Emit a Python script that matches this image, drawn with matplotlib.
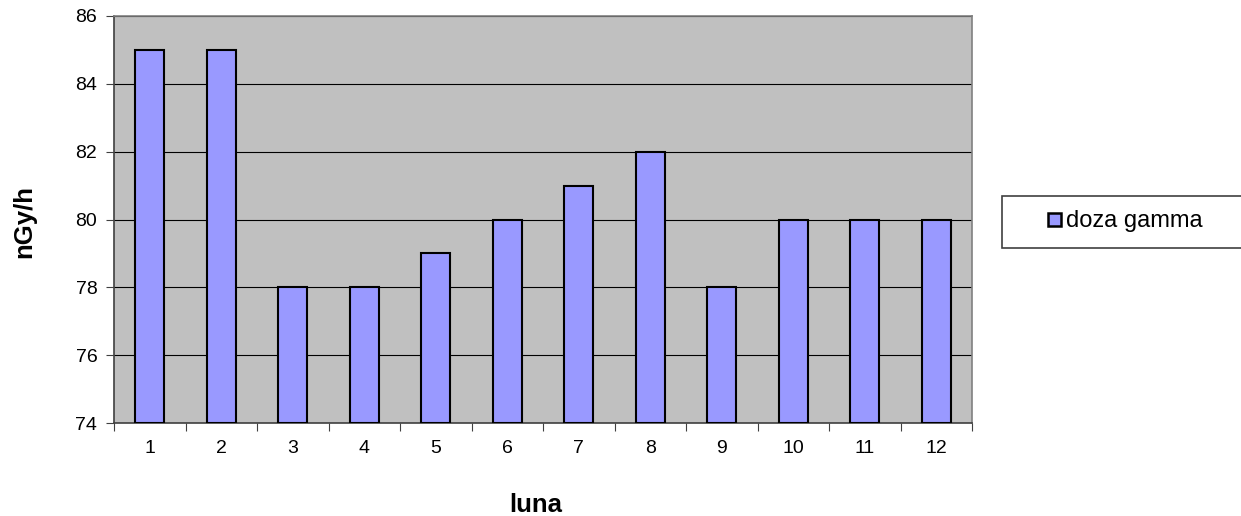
import numpy as np
import matplotlib.pyplot as plt
from matplotlib.patches import Rectangle

# monthly gamma dose values
luna = [1, 2, 3, 4, 5, 6, 7, 8, 9, 10, 11, 12]
doza = [85, 85, 78, 78, 79, 80, 81, 82, 78, 80, 80, 80]
y_ticks = [74, 76, 78, 80, 82, 84, 86]
bar_color = '#9999ff'

plt.rcParams['font.family'] = ['Liberation Sans', 'DejaVu Sans']

W, H = 1241, 516
fig = plt.figure(figsize=(W / 100, H / 100), dpi=100)
ax = fig.add_axes([114 / W, 1 - 423 / H, 858 / W, 407 / H])
ax.set_facecolor('#c0c0c0')

x = np.arange(len(luna))
ax.bar(x, [v - 74 for v in doza], bottom=74, width=0.4, color=bar_color,
       edgecolor='black', linewidth=1.5, zorder=3)

ax.set_xlim(-0.5, len(luna) - 0.5)
ax.set_ylim(74, 86)
ax.set_yticks(y_ticks)
ax.set_yticklabels([str(t) for t in y_ticks], fontsize=14)
ax.yaxis.grid(True, color='black', linewidth=0.8, zorder=1)
ax.set_axisbelow(True)

# category ticks on boundaries, labels in the middle
ax.set_xticks(np.arange(-0.5, len(luna), 1.0))
ax.set_xticklabels([])
ax.set_xticks(x, minor=True)
ax.set_xticklabels([str(m) for m in luna], minor=True, fontsize=14)
ax.tick_params(axis='x', which='minor', length=0, pad=12)
ax.tick_params(axis='x', which='major', length=6, color='#404040')
ax.tick_params(axis='y', length=6, color='#404040', pad=6)

for side in ['top', 'right']:
    ax.spines[side].set_color('#808080')
for side in ['left', 'bottom']:
    ax.spines[side].set_color('#404040')
for s in ax.spines.values():
    s.set_linewidth(1.2)

# axis titles
fig.text(536 / W, 1 - 505 / H, 'luna', fontsize=18.5, fontweight='bold',
         ha='center', va='center')
fig.text(24 / W, 1 - 221 / H, 'nGy/h', fontsize=18.5, fontweight='bold',
         ha='center', va='center', rotation=90)

# legend box (right side runs off the canvas as in the original)
fig.patches.append(Rectangle((1002 / W, 1 - 248 / H), 260 / W, 52 / H,
                             transform=fig.transFigure, facecolor='white',
                             edgecolor='#404040', linewidth=1.2))
fig.patches.append(Rectangle((1048 / W, 1 - 226 / H), 13 / W, 13 / H,
                             transform=fig.transFigure, facecolor=bar_color,
                             edgecolor='black', linewidth=1.8))
fig.text(1066 / W, 1 - 221 / H, 'doza gamma', fontsize=17,
         ha='left', va='center')

fig.savefig('out.png', dpi=100)
